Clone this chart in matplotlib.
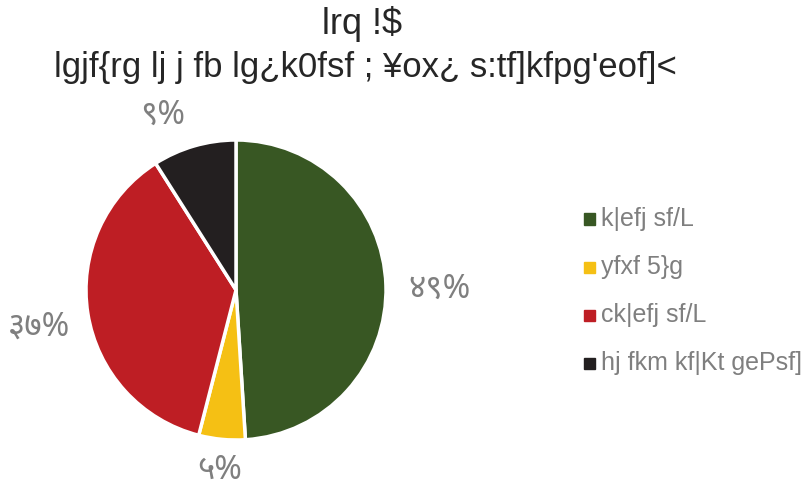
import matplotlib
matplotlib.use('Agg')
import matplotlib.pyplot as plt
import numpy as np

# ==========================================
# 資料
# ==========================================
TITLE    = 'lrq !$'
SUBTITLE = "lgjf{rg lj j fb lg¿k0fsf ; ¥ox¿ s:tf]kfpg'eof]<"

labels  = ['k|efj sf/L', 'yfxf 5}g', 'ck|efj sf/L', 'hj fkm kf|Kt gePsf]']
values  = [49, 5, 37, 9]
pct_txt = ['४९%', '५%', '३७%', '९%']
colors  = ['#385723', '#F5C014', '#BE1E24', '#231F20']

# 標籤與圓心距離（半徑倍數）及角度微調（度），依原圖
label_r    = [1.36, 1.17, 1.33, 1.30]
label_dang = [0, 0, 0, 6]

TXT_FONT = ['Liberation Sans', 'DejaVu Sans']
PCT_FONT = ['Noto Sans', 'DejaVu Sans']
GRAY = '#7F7F7F'
W, H = 807, 488

# ==========================================
# 繪圖
# ==========================================
fig = plt.figure(figsize=(W / 100, H / 100), dpi=100)
cx, cy, R = 236, 290, 150
ax = fig.add_axes([(cx - R) / W, 1 - (cy + R) / H, 2 * R / W, 2 * R / H])

ax.pie(values, colors=colors, startangle=90, counterclock=False,
       wedgeprops=dict(edgecolor='white', linewidth=2.5))
ax.set_xlim(-1, 1)
ax.set_ylim(-1, 1)
ax.set_aspect('equal')
ax.axis('off')

# 百分比標籤
total = sum(values)
ang0 = 90.0
for v, t, r, da in zip(values, pct_txt, label_r, label_dang):
    span = v / total * 360
    mid = np.radians(ang0 - span / 2 + da)
    ang0 -= span
    ax.annotate(t, (r * np.cos(mid), r * np.sin(mid)), xytext=(0, -4),
                textcoords='offset points', ha='center', va='center',
                fontsize=24, color=GRAY, family=PCT_FONT,
                annotation_clip=False)

fig.text(362 / W, 1 - 24 / H, TITLE, ha='center', va='center',
         fontsize=26, color='#262626', family=TXT_FONT)
fig.text(365 / W, 1 - 67 / H, SUBTITLE, ha='center', va='center',
         fontsize=25, color='#262626', family=TXT_FONT)

# 圖例
for i, (lab, c) in enumerate(zip(labels, colors)):
    y = 1 - (219 + 48 * i) / H
    fig.patches.append(plt.Rectangle((584 / W, y - 5.5 / H), 11 / W, 11 / H,
                                     transform=fig.transFigure, color=c))
    fig.text(601 / W, y, lab, ha='left', va='center', fontsize=18,
             color=GRAY, family=TXT_FONT)

fig.savefig('out.png', dpi=100)
